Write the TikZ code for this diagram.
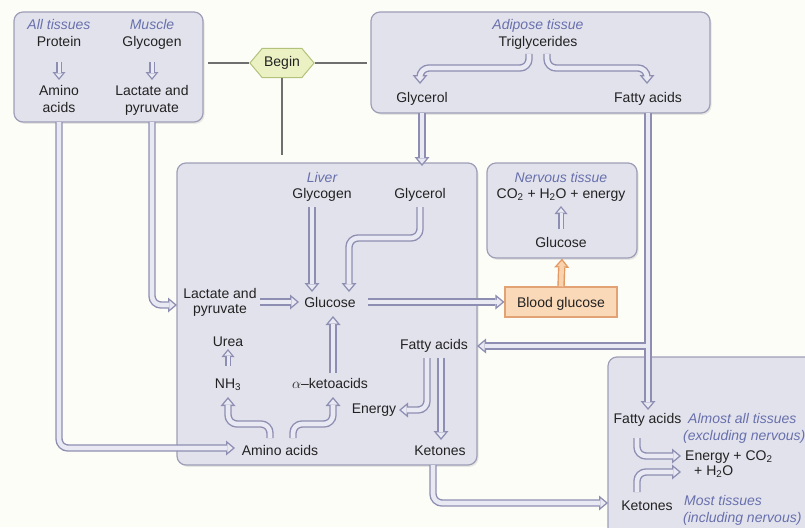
\documentclass[tikz,border=0pt]{standalone}
\usepackage{fontspec}
\setmainfont{Liberation Sans}
\usetikzlibrary{arrows.meta,shapes.symbols,shadows}
\definecolor{bgc}{HTML}{FDFDF8}
\definecolor{boxf}{HTML}{E2E2ED}
\definecolor{boxd}{HTML}{9E9EB8}
\definecolor{arrA}{HTML}{8E8EB2}
\definecolor{arrF}{HTML}{E9E9F3}
\definecolor{orA}{HTML}{E39A62}
\definecolor{orF}{HTML}{F9D2AE}
\definecolor{bldf}{HTML}{FAD9B9}
\definecolor{bldd}{HTML}{E3A274}
\definecolor{begf}{HTML}{EBF1C3}
\definecolor{begd}{HTML}{B3C27A}
\definecolor{tlab}{HTML}{6870AC}
\definecolor{txtc}{HTML}{222222}
\definecolor{linc}{HTML}{6F6F6F}
\newcommand\hollowpaths[3]{%
  % small arrows
  \draw[#2] (s1a) -- (s1b);
  \draw[#2] (s2a) -- (s2b);
  \draw[#2] (nv1) -- (nv2);
  \draw[#2] (u1) -- (u2);
  % big arrows
  \draw[#1] (ta1) -- (ta2) -- (ta3) -- (ta4);
  \draw[#1] (tb1) -- (tb2) -- (tb3) -- (tb4);
  \draw[#1] (g1) -- (g2);
  \draw[#1] (f3) -- (f4);
  \draw[#1] (f1) -- (f2);
  \draw[#1] (lg1) -- (lg2);
  \draw[#1] (lc1) -- (lc2) -- (lc3) -- (lc4);
  \draw[#1] (m1) -- (m2) -- (m3);
  \draw[#1] (a1) -- (a2) -- (a3);
  \draw[#1] (lp1) -- (lp2);
  \draw[#1] (gb1) -- (blood.west);
  \draw[#1] (kg1) -- (kg2);
  \draw[#1] (n1) -- (n2) -- (n3) -- (n4);
  \draw[#1] (k1) -- (k2) -- (k3) -- (k4);
  \draw[#1] (e1) -- (e2) -- (e3);
  \draw[#1] (fk1) -- (fk2);
  \draw[#1] (kb1) -- (kb2) -- (kb3);
  \draw[#1] (c1) -- (c2) -- (c3);
  \draw[#1] (d1) -- (d2) -- (d3);
  % orange
  \draw[#3] (blood.north) -- (nerv.south);
}
\begin{document}
\begin{tikzpicture}[x=1pt,y=-1pt,
  tx/.style={anchor=base, inner sep=0pt, text=txtc, font=\fontsize{14}{16}\selectfont},
  txw/.style={tx, anchor=base west},
  lb/.style={tx, text=tlab, font=\fontsize{14}{16}\selectfont\itshape},
  lbw/.style={lb, anchor=base west},
  panel/.style={draw=boxd, fill=boxf, line width=1.2pt, rounded corners=9pt, inner sep=0pt,
     drop shadow={opacity=0.18, shadow xshift=1.5pt, shadow yshift=-1.8pt}},
  gline/.style={draw=linc, line width=1.4pt},
  pot/.style={draw=arrA, line width=7.4pt, rounded corners=9pt, -{Triangle[length=9pt,width=15pt,line width=0pt]}},
  pit/.style={draw=arrF, line width=4.6pt, rounded corners=9pt, shorten >=2.2pt, -{Triangle[length=5.4pt,width=9pt,line width=0pt]}},
  sot/.style={draw=arrA, line width=5.8pt, -{Triangle[length=8pt,width=13pt,line width=0pt]}},
  sit/.style={draw=arrF, line width=3pt, shorten >=2.1pt, -{Triangle[length=4.6pt,width=7.5pt,line width=0pt]}},
  oot/.style={draw=orA, line width=7.4pt, -{Triangle[length=9pt,width=15pt,line width=0pt]}},
  oit/.style={draw=orF, line width=4.6pt, shorten >=2.2pt, -{Triangle[length=5.4pt,width=9pt,line width=0pt]}},
]
\fill[bgc] (0,0) rectangle (805,527);
\useasboundingbox (0,0) rectangle (805,527);
\begin{scope}
\clip (0,0) rectangle (805,527);
% panels
\node[panel, minimum width=189pt, minimum height=110pt] (p1) at (108.5,67) {};
\node[panel, minimum width=339pt, minimum height=101pt] (adip) at (540.5,62.5) {};
\node[panel, minimum width=300pt, minimum height=302pt] (liver) at (327,314) {};
\node[panel, minimum width=150pt, minimum height=95pt] (nerv) at (562,210.5) {};
\node[panel, minimum width=232pt, minimum height=203pt] (br) at (724,458.5) {};
\node[draw=bldd, fill=bldf, line width=1.1pt, minimum width=112pt, minimum height=30pt, inner sep=0pt] (blood) at (561,302) {};

% begin
\node[signal, signal to=east and west, signal pointer angle=100, draw=begd, fill=begf, line width=1pt,
      minimum width=63pt, minimum height=29pt, inner sep=2pt, text=txtc, font=\fontsize{14}{16}\selectfont] (begin) at (282,63) {Begin};
\coordinate (bl1) at (208,63);
\coordinate (bl2) at (367,63);
\coordinate (bl3) at (282,155);
\draw[gline] (bl1) -- (begin.west);
\draw[gline] (begin.east) -- (bl2);
\draw[gline] (begin.south) -- (bl3);

% coordinates
\coordinate (s1a) at (59,62);  \coordinate (s1b) at (59,80);
\coordinate (s2a) at (152,62); \coordinate (s2b) at (152,80);
\coordinate (nv1) at (561,229); \coordinate (nv2) at (561,206);
\coordinate (u1) at (228,366); \coordinate (u2) at (228,349);
\coordinate (ta1) at (529,54); \coordinate (ta2) at (529,68); \coordinate (ta3) at (420,68); \coordinate (ta4) at (420,84);
\coordinate (tb1) at (547,54); \coordinate (tb2) at (547,68); \coordinate (tb3) at (647,68); \coordinate (tb4) at (647,84);
\coordinate (g1) at (422,113); \coordinate (g2) at (422,166);
\coordinate (f1) at (648,113); \coordinate (f2) at (648,410);
\coordinate (f3) at (648,346); \coordinate (f4) at (477,346);
\coordinate (lg1) at (312,207); \coordinate (lg2) at (312,292);
\coordinate (lc1) at (420,207); \coordinate (lc2) at (420,238); \coordinate (lc3) at (349,238); \coordinate (lc4) at (349,292);
\coordinate (m1) at (152,122); \coordinate (m2) at (152,305); \coordinate (m3) at (177,305);
\coordinate (a1) at (59,122); \coordinate (a2) at (59,448); \coordinate (a3) at (235,448);
\coordinate (lp1) at (260,302); \coordinate (lp2) at (299,302);
\coordinate (gb1) at (368,302);
\coordinate (kg1) at (333,373); \coordinate (kg2) at (333,316);
\coordinate (n1) at (270,438); \coordinate (n2) at (270,424); \coordinate (n3) at (228,424); \coordinate (n4) at (228,397);
\coordinate (k1) at (293,438); \coordinate (k2) at (293,424); \coordinate (k3) at (333,424); \coordinate (k4) at (333,397);
\coordinate (e1) at (427,358); \coordinate (e2) at (427,410); \coordinate (e3) at (399,410);
\coordinate (fk1) at (441,358); \coordinate (fk2) at (441,440);
\coordinate (kb1) at (433,465); \coordinate (kb2) at (433,503); \coordinate (kb3) at (608,503);
\coordinate (c1) at (637,438); \coordinate (c2) at (637,456); \coordinate (c3) at (681,456);
\coordinate (d1) at (637,492); \coordinate (d2) at (637,472); \coordinate (d3) at (681,472);

\hollowpaths{pot}{sot}{oot}
\hollowpaths{pit}{sit}{oit}

% texts: box 1
\node[lb] (t1) at (59,30) {All tissues};
\node[tx] (t2) at (59,47) {Protein};
\node[tx] (t3) at (59,95) {Amino};
\node[tx] (t4) at (59,112) {acids};
\node[lb] (t5) at (152,30) {Muscle};
\node[tx] (t6) at (152,47) {Glycogen};
\node[tx] (t7) at (152,95) {Lactate and};
\node[tx] (t8) at (152,112) {pyruvate};
% adipose
\node[lb] (t9) at (538,30) {Adipose tissue};
\node[tx] (t10) at (538,47) {Triglycerides};
\node[tx] (t11) at (422,102) {Glycerol};
\node[tx] (t12) at (648,102) {Fatty acids};
% liver
\node[lb] (t13) at (322,182) {Liver};
\node[tx] (t14) at (322,198) {Glycogen};
\node[tx] (t15) at (420,198) {Glycerol};
\node[tx] (t16) at (220,298) {Lactate and};
\node[tx] (t17) at (220,313) {pyruvate};
\node[tx] (t18) at (330,307) {Glucose};
\node[tx] (t19) at (228,346) {Urea};
\node[tx] (t20) at (228,388) {NH\textsubscript{3}};
\node[tx] (t21) at (330,388) {$\alpha$–ketoacids};
\node[tx] (t22) at (434,349) {Fatty acids};
\node[tx] (t23) at (374,413) {Energy};
\node[tx] (t24) at (280,455) {Amino acids};
\node[tx] (t25) at (440,455) {Ketones};
% nervous
\node[lb] (t26) at (561,182) {Nervous tissue};
\node[tx] (t27) at (561,198) {CO\textsubscript{2} + H\textsubscript{2}O + energy};
\node[tx] (t28) at (561,247) {Glucose};
\node[tx] (t29) at (561,307) {Blood glucose};
% bottom right
\node[tx] (t30) at (647.5,423) {Fatty acids};
\node[lbw] (t31) at (688,423) {Almost all tissues};
\node[lbw] (t32) at (683,440) {(excluding nervous)};
\node[txw] (t33) at (685,460) {Energy + CO\textsubscript{2}};
\node[txw] (t34) at (694,475) {+ H\textsubscript{2}O};
\node[tx] (t35) at (647,510) {Ketones};
\node[lbw] (t36) at (684,505) {Most tissues};
\node[lbw] (t37) at (683,522) {(including nervous)};
\end{scope}
\end{tikzpicture}
\end{document}
